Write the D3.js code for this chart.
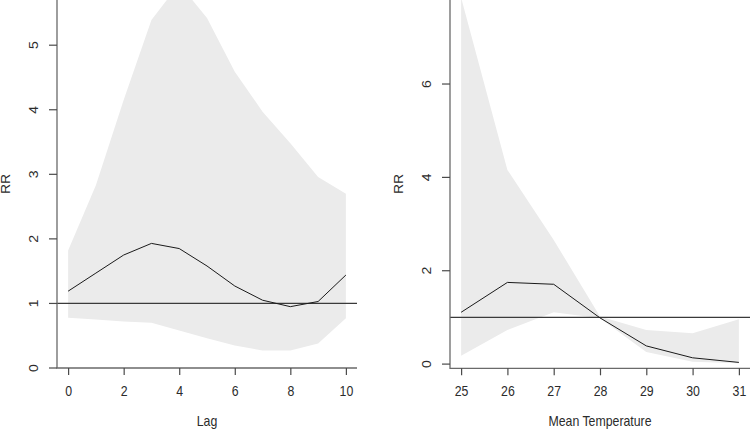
<!DOCTYPE html>
<html>
<head>
<meta charset="utf-8">
<script src="https://cdn.jsdelivr.net/npm/d3@7/dist/d3.min.js"></script>
<style>
  html, body { margin: 0; padding: 0; background: #fff; }
  svg { display: block; }
  text { font-family: "Liberation Sans", Arial, sans-serif; fill: #2b2b2b; }
</style>
</head>
<body>
<svg id="chart" width="750" height="429"></svg>
<script>
// ---- Data: left panel (lag-response) ----
const lags      = [0, 1, 2, 3, 4, 5, 6, 7, 8, 9, 10];
const lagRR     = [1.19, 1.47, 1.75, 1.93, 1.85, 1.58, 1.27, 1.05, 0.95, 1.03, 1.44];
const lagUpper  = [1.82, 2.83, 4.15, 5.39, 5.95, 5.42, 4.59, 3.97, 3.48, 2.96, 2.70];
const lagLower  = [0.78, 0.75, 0.72, 0.70, 0.58, 0.46, 0.35, 0.27, 0.27, 0.38, 0.77];
const lagTicksX = [0, 2, 4, 6, 8, 10];
const lagTicksY = [0, 1, 2, 3, 4, 5];

// ---- Data: right panel (temperature-response) ----
const temps      = [25, 26, 27, 28, 29, 30, 31];
const tempRR     = [1.11, 1.75, 1.71, 0.99, 0.39, 0.135, 0.036];
const tempUpper  = [7.85, 4.16, 2.66, 1.02, 0.73, 0.66, 0.96];
const tempLower  = [0.18, 0.73, 1.11, 0.98, 0.26, 0.05, 0.02];
const tempTicksX = [25, 26, 27, 28, 29, 30, 31];
const tempTicksY = [0, 2, 4, 6];

const FS = 14;      // font size
const SQ = 0.88;    // horizontal squeeze of glyphs

const svg = d3.select("#chart");

function panel(cfg) {
  const g = svg.append("g");
  const x = d3.scaleLinear().domain(cfg.xDomain).range(cfg.xRange);
  const y = d3.scaleLinear().domain(cfg.yDomain).range(cfg.yRange);
  const [x0, x1] = cfg.xRange;
  const yb = cfg.yRange[0];

  const pts = cfg.xs.map((v, i) => ({ x: v, lo: cfg.lo[i], hi: cfg.hi[i], m: cfg.m[i] }));

  // confidence band
  g.append("path")
    .datum(pts)
    .attr("fill", "#ebebeb")
    .attr("stroke", "none")
    .attr("d", d3.area().x(d => x(d.x)).y0(d => y(d.lo)).y1(d => y(d.hi)));

  // reference line at RR = 1
  g.append("line")
    .attr("x1", x0).attr("x2", x1)
    .attr("y1", y(1)).attr("y2", y(1))
    .attr("stroke", "#3a3a3a").attr("stroke-width", 1.2);

  // estimate line
  g.append("path")
    .datum(pts)
    .attr("fill", "none")
    .attr("stroke", "#1a1a1a")
    .attr("stroke-width", 1)
    .attr("d", d3.line().x(d => x(d.x)).y(d => y(d.m)));

  // L-shaped box
  g.append("path")
    .attr("d", `M${x0},0 V${yb} H${x1}`)
    .attr("fill", "none")
    .attr("stroke", "#6a6a6a")
    .attr("stroke-width", 1.3);

  // x axis
  const xa = g.append("g")
    .attr("transform", `translate(0,${yb})`)
    .call(d3.axisBottom(x).tickValues(cfg.xTicks).tickSize(7).tickPadding(11).tickFormat(d3.format("d")));
  xa.select(".domain").remove();
  xa.selectAll(".tick line").attr("stroke", "#4a4a4a").attr("stroke-width", 1.2);
  xa.selectAll(".tick text").attr("font-size", FS).attr("fill", "#2b2b2b")
    .attr("transform", `scale(${SQ},1)`)
    .style("font-family", '"Liberation Sans", Arial, sans-serif');

  // y axis ticks
  const yt = g.append("g");
  yt.selectAll("line").data(cfg.yTicks).join("line")
    .attr("x1", x0 - 8).attr("x2", x0)
    .attr("y1", d => y(d)).attr("y2", d => y(d))
    .attr("stroke", "#4a4a4a").attr("stroke-width", 1.2);
  yt.selectAll("text").data(cfg.yTicks).join("text")
    .attr("transform", d => `translate(${x0 - 23},${y(d)}) rotate(-90) scale(1,${SQ})`)
    .attr("text-anchor", "middle")
    .attr("dominant-baseline", "central")
    .attr("font-size", FS)
    .text(d => d);

  // axis titles
  g.append("text")
    .attr("transform", `translate(${(x0 + x1) / 2},421) scale(${SQ},1)`)
    .attr("text-anchor", "middle")
    .attr("dominant-baseline", "central")
    .attr("font-size", FS)
    .text(cfg.xTitle);
  g.append("text")
    .attr("transform", `translate(${x0 - 51},184) rotate(-90) scale(1,${SQ})`)
    .attr("text-anchor", "middle")
    .attr("dominant-baseline", "central")
    .attr("font-size", FS)
    .text("RR");
}

panel({
  xs: lags, m: lagRR, hi: lagUpper, lo: lagLower,
  xDomain: [-0.4, 10.4], xRange: [57, 357],
  yDomain: [0, 5.70], yRange: [368, 0],
  xTicks: lagTicksX, yTicks: lagTicksY,
  xTitle: "Lag"
});

panel({
  xs: temps, m: tempRR, hi: tempUpper, lo: tempLower,
  xDomain: [24.76, 31.24], xRange: [450, 750],
  yDomain: [-0.09, 7.8], yRange: [368.3, 0],
  xTicks: tempTicksX, yTicks: tempTicksY,
  xTitle: "Mean Temperature"
});
</script>
</body>
</html>
